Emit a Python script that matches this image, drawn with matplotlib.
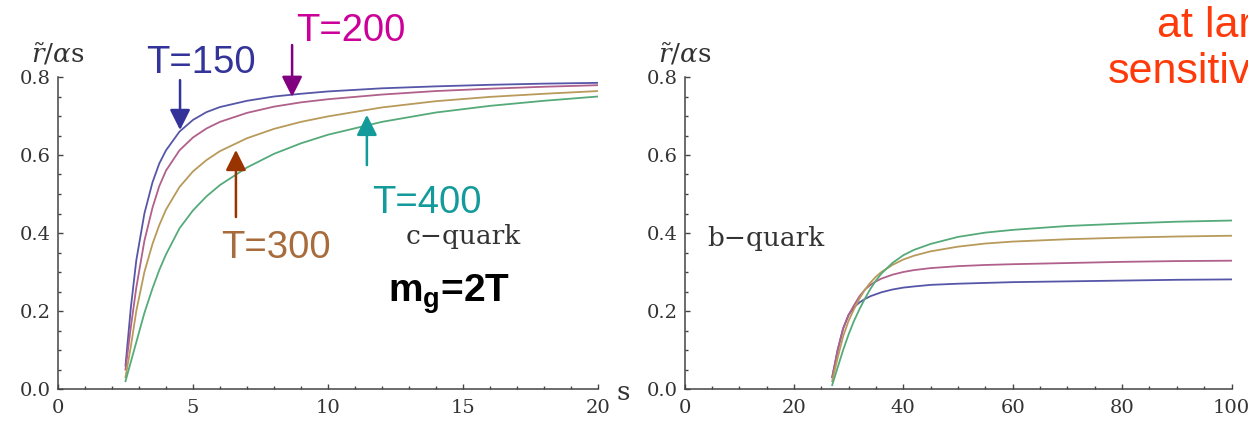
import matplotlib
matplotlib.use("Agg")
import matplotlib.pyplot as plt
from matplotlib.ticker import MultipleLocator

# c-quark curves (left panel), r~/alpha s vs s
s_c = [2.5, 2.7, 2.9, 3.2, 3.5, 3.75, 4.0, 4.5, 5.0, 5.5, 6.0, 7.0, 8.0, 9.0, 10.0,
       12.0, 14.0, 16.0, 18.0, 20.0]
c_T150 = [0.06, 0.21, 0.33, 0.45, 0.53, 0.578, 0.612, 0.66, 0.69, 0.71, 0.723, 0.739,
          0.750, 0.757, 0.763, 0.771, 0.776, 0.780, 0.783, 0.785]
c_T200 = [0.05, 0.16, 0.26, 0.38, 0.465, 0.52, 0.56, 0.612, 0.645, 0.668, 0.685, 0.708,
          0.724, 0.735, 0.743, 0.755, 0.764, 0.770, 0.775, 0.779]
c_T300 = [0.03, 0.11, 0.20, 0.30, 0.372, 0.42, 0.46, 0.518, 0.558, 0.587, 0.61, 0.643,
          0.667, 0.685, 0.699, 0.722, 0.738, 0.749, 0.757, 0.764]
c_T400 = [0.02, 0.07, 0.12, 0.195, 0.258, 0.305, 0.345, 0.412, 0.458, 0.494, 0.523,
          0.568, 0.603, 0.63, 0.652, 0.685, 0.709, 0.726, 0.739, 0.75]

# b-quark curves (right panel)
s_b = [27, 28, 29, 30, 31, 32, 33, 34, 35, 36, 38, 40, 42, 45, 50, 55, 60, 70,
       80, 90, 100]
b_T150 = [0.03, 0.10, 0.155, 0.19, 0.21, 0.222, 0.231, 0.238, 0.243, 0.248, 0.255,
          0.26, 0.263, 0.267, 0.27, 0.272, 0.274, 0.276, 0.278, 0.28, 0.281]
b_T200 = [0.03, 0.10, 0.155, 0.19, 0.215, 0.238, 0.255, 0.267, 0.276, 0.283, 0.293,
          0.300, 0.305, 0.310, 0.315, 0.318, 0.320, 0.323, 0.326, 0.328, 0.329]
b_T300 = [0.02, 0.08, 0.135, 0.175, 0.205, 0.232, 0.255, 0.273, 0.288, 0.30, 0.318,
          0.332, 0.342, 0.353, 0.365, 0.373, 0.378, 0.384, 0.388, 0.391, 0.393]
b_T400 = [0.01, 0.055, 0.10, 0.14, 0.175, 0.205, 0.232, 0.257, 0.278, 0.296, 0.323,
          0.343, 0.357, 0.372, 0.39, 0.401, 0.408, 0.418, 0.424, 0.429, 0.432]

curve_colors = ['#5656a8', '#b0608a', '#b89a5a', '#55aa7a']

left_xticks = [0, 5, 10, 15, 20]
right_xticks = [0, 20, 40, 60, 80, 100]
yticks = [0.0, 0.2, 0.4, 0.6, 0.8]

serif = 'DejaVu Serif'
sans = 'Liberation Sans'
plt.rcParams['mathtext.bf'] = 'Liberation Sans:bold'
plt.rcParams['mathtext.rm'] = 'Liberation Sans'

W, H = 1248, 422
fig = plt.figure(figsize=(W / 100, H / 100), dpi=100)
ax1 = fig.add_axes([58 / W, 33 / H, 540 / W, 312 / H])
ax2 = fig.add_axes([684.5 / W, 33 / H, 547 / W, 312 / H])


def style_axis(ax, xmax, xticks, xminor):
    ax.set_xlim(0, xmax)
    ax.set_ylim(0, 0.8)
    for side in ['top', 'right']:
        ax.spines[side].set_visible(False)
    for side in ['left', 'bottom']:
        ax.spines[side].set_color('#444444')
        ax.spines[side].set_linewidth(1.1)
    ax.set_xticks(xticks)
    ax.set_yticks(yticks)
    ax.set_yticklabels([f'{v:.1f}' for v in yticks])
    ax.xaxis.set_minor_locator(MultipleLocator(xminor))
    ax.yaxis.set_minor_locator(MultipleLocator(0.05))
    ax.tick_params(which='both', direction='in', color='#444444', width=1,
                   labelsize=14, labelcolor='#333333')
    ax.tick_params(which='major', length=3.5)
    ax.tick_params(which='minor', length=2)
    ax.tick_params(axis='x', pad=7)
    ax.tick_params(axis='y', pad=5)
    for lab in ax.get_xticklabels() + ax.get_yticklabels():
        lab.set_family(serif)
    ax.text(0, 1.048, r'$\tilde{r}/\alpha\mathrm{s}$', transform=ax.transAxes,
            ha='center', va='baseline', fontsize=19, color='#333333',
            math_fontfamily='dejavuserif')
    ax.text(1.046, -0.01, 's', transform=ax.transAxes, ha='center', va='center',
            fontsize=19, family=serif, color='#333333', clip_on=False)


style_axis(ax1, 20, left_xticks, 1)
style_axis(ax2, 100, right_xticks, 5)

for ys, c in zip([c_T150, c_T200, c_T300, c_T400], curve_colors):
    ax1.plot(s_c, ys, color=c, lw=1.3)
for ys, c in zip([b_T150, b_T200, b_T300, b_T400], curve_colors):
    ax2.plot(s_b, ys, color=c, lw=1.3)

# labels and arrows on the c-quark panel
arrow_style = '-|>,head_length=0.62,head_width=0.31'


def arrow(ax, tip, tail, color):
    ax.annotate('', xy=tip, xytext=tail, annotation_clip=False,
                arrowprops=dict(arrowstyle=arrow_style, color=color, lw=1.8,
                                mutation_scale=20, shrinkA=0, shrinkB=0))


arrow(ax1, (4.52, 0.664), (4.52, 0.792), '#333399')
arrow(ax1, (8.67, 0.749), (8.67, 0.882), '#800080')
arrow(ax1, (6.59, 0.613), (6.59, 0.441), '#993300')
arrow(ax1, (11.44, 0.703), (11.44, 0.574), '#139a9a')

tkw = dict(ha='center', va='center', fontsize=27.5, family=sans, clip_on=False)
ax1.text(5.3, 0.836, 'T=150', color='#333399', **tkw)
ax1.text(10.85, 0.918, 'T=200', color='#cc0099', **tkw)
ax1.text(8.07, 0.362, 'T=300', color='#a86c3c', **tkw)
ax1.text(13.67, 0.478, 'T=400', color='#139a9a', **tkw)

ax1.text(15.0, 0.392, 'c\u2212quark', ha='center', va='center', fontsize=19,
         family=serif, color='#333333')
ax1.text(14.48, 0.223, r'$\mathbf{m}_{\mathbf{g}}$=2T', ha='center',
         va='baseline', fontsize=28, family=sans, fontweight='bold',
         color='black', math_fontfamily='custom')

ax2.text(14.9, 0.387, 'b\u2212quark', ha='center', va='center', fontsize=19,
         family=serif, color='#333333')

# slide text cut off at the right edge
fig.text(1157 / W, 1 - 37 / H, 'at large', ha='left', va='baseline',
         fontsize=31, family=sans, color='#fe3a0a')
fig.text(1108 / W, 1 - 83 / H, 'sensitive', ha='left', va='baseline',
         fontsize=31, family=sans, color='#fe3a0a')

fig.savefig('out.png', dpi=100)
